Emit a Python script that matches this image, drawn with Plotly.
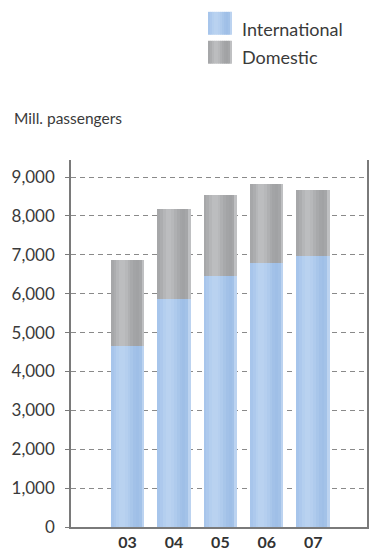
import plotly.graph_objects as go

# Passenger volumes (millions), by year
years = ["03", "04", "05", "06", "07"]
international = [4650, 5860, 6450, 6790, 6970]
domestic = [2210, 2310, 2080, 2020, 1690]
y_ticks = [0, 1000, 2000, 3000, 4000, 5000, 6000, 7000, 8000, 9000]

# Horizontal shading across each column (left edge -> right edge)
blue_shades = ["#a7c5eb", "#adc9ed", "#b4cfef", "#b9d2f0", "#b9d2f0", "#b5cfef",
               "#afcbed", "#a8c6ea", "#a2c1e8", "#9fbfe7", "#a3c2e8", "#bcd3f0"]
grey_shades = ["#a6a7a9", "#acadaf", "#b5b6b8", "#bcbdbf", "#bcbdbf", "#b7b8ba",
               "#afb0b2", "#a8a9ab", "#a3a4a6", "#a1a2a4", "#a5a6a8", "#bfc0c2"]

W, H = 369, 551
L, R, T, B = 71, 2, 159.5, 23.7
FONT = "Lato"
TXT = "#3a3a3a"

xpos = list(range(len(years)))
bar_w = 0.72
n = len(blue_shades)
stripe = bar_w / n

fig = go.Figure()


def shaded_column(values, base, shades, name):
    for i, c in enumerate(shades):
        w = stripe + (0.012 if i < n - 1 else 0)
        fig.add_trace(go.Bar(
            x=xpos, y=values, base=base, name=name,
            width=[w] * len(xpos), offset=-bar_w / 2 + i * stripe,
            marker=dict(color=c, line=dict(width=0)),
            showlegend=False, hoverinfo="skip",
        ))


shaded_column(international, [0] * len(xpos), blue_shades, "International")
shaded_column(domestic, international, grey_shades, "Domestic")

# Legend drawn as swatches + labels above the plot area
plot_h = H - T - B


def py(pix):
    return (H - B - pix) / plot_h


def px(pix):
    return (pix - L) / (W - L - R)


legend_items = [("International", blue_shades, 11, 34, 28),
                ("Domestic", grey_shades, 40, 63, 56)]
for label, shades, top, bot, mid in legend_items:
    x0, x1 = 208, 232
    sw = (x1 - x0) / n
    for i, c in enumerate(shades):
        fig.add_shape(type="rect", xref="paper", yref="paper",
                      x0=px(x0 + i * sw), x1=px(x0 + (i + 1) * sw + (0.4 if i < n - 1 else 0)),
                      y0=py(bot), y1=py(top),
                      fillcolor=c, line=dict(width=0), layer="above")
    fig.add_annotation(text=label, xref="paper", yref="paper",
                       x=px(240), y=py(mid), xanchor="left", yanchor="middle",
                       showarrow=False, font=dict(family=FONT, size=18, color=TXT))

fig.add_annotation(text="Mill. passengers", xref="paper", yref="paper",
                   x=px(12), y=py(117), xanchor="left", yanchor="middle",
                   showarrow=False, font=dict(family=FONT, size=15.5, color=TXT))

fig.update_layout(
    width=W, height=H,
    margin=dict(l=L, r=R, t=T, b=B, autoexpand=False),
    paper_bgcolor="white", plot_bgcolor="white",
    barmode="overlay", bargap=0,
    showlegend=False,
    font=dict(family=FONT, color=TXT),
)

fig.update_xaxes(
    range=[-1.22, 5.16],
    tickvals=xpos, ticktext=years,
    tickfont=dict(family=FONT, size=16, color="#333333", weight="bold"),
    ticks="", showgrid=False, zeroline=False,
    showline=True, linecolor="#7a7a7a", linewidth=1.5,
    fixedrange=True,
)

fig.update_yaxes(
    range=[0, 9440],
    tickvals=y_ticks, ticktext=[f"{v:,}" for v in y_ticks],
    tickfont=dict(family=FONT, size=17, color=TXT),
    ticks="outside", ticklen=4, tickcolor="#7a7a7a", tickwidth=1,
    ticklabelstandoff=7,
    showgrid=True, gridcolor="#8a8a8a", gridwidth=1, griddash="5px,4px",
    zeroline=False,
    showline=True, linecolor="#7a7a7a", linewidth=1.5, mirror=True,
    fixedrange=True,
)

fig.write_html("out.html")
